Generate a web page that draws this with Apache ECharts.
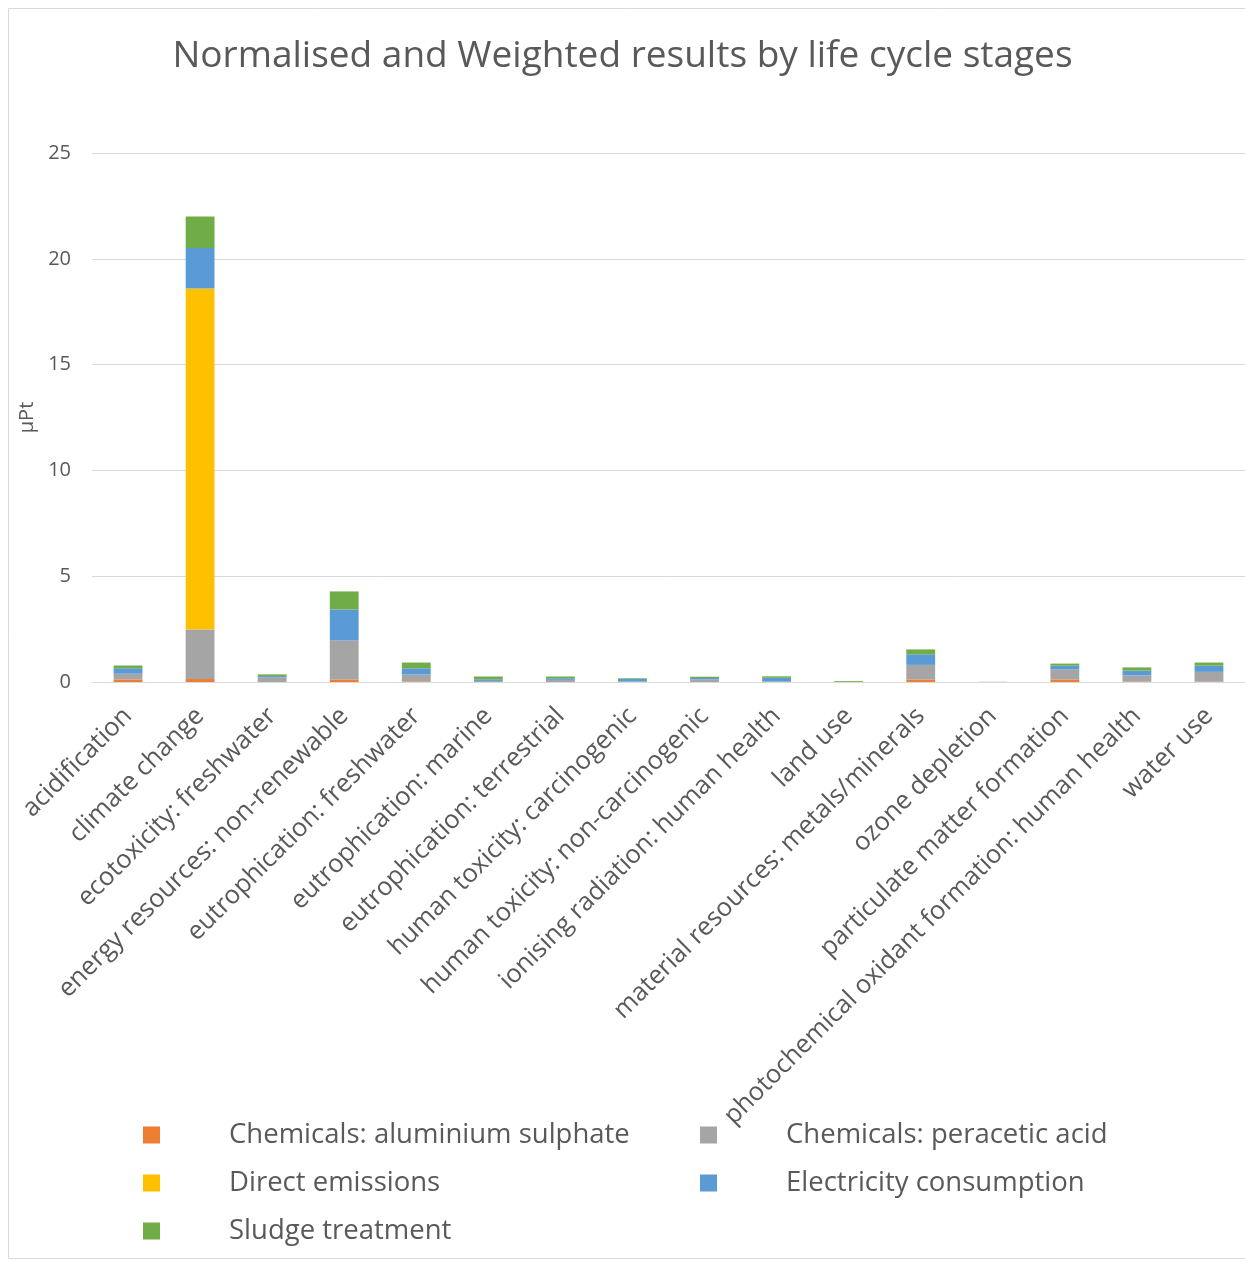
<!DOCTYPE html>
<html>
<head>
<meta charset="utf-8">
<script src="https://cdn.jsdelivr.net/npm/echarts@6/dist/echarts.min.js"></script>
<style>
  body { margin: 0; background: #fff; }
  #chart { width: 1245px; height: 1262px; }
</style>
</head>
<body>
<div id="chart"></div>
<script>
// impact categories
var categories = [
  'acidification', 'climate change', 'ecotoxicity: freshwater',
  'energy resources: non-renewable', 'eutrophication: freshwater',
  'eutrophication: marine', 'eutrophication: terrestrial',
  'human toxicity: carcinogenic', 'human toxicity: non-carcinogenic',
  'ionising radiation: human health', 'land use',
  'material resources: metals/minerals', 'ozone depletion',
  'particulate matter formation', 'photochemical oxidant formation: human health',
  'water use'
];

// values in µPt
var aluminiumSulphate = [0.12, 0.14, 0.00, 0.12, 0.03, 0.00, 0.00, 0.00, 0.00, 0.00, 0.00, 0.12, 0.00, 0.12, 0.02, 0.02];
var peraceticAcid     = [0.27, 2.34, 0.23, 1.84, 0.32, 0.05, 0.10, 0.02, 0.12, 0.02, 0.01, 0.69, 0.01, 0.47, 0.29, 0.46];
var directEmissions   = [0.00, 16.12, 0.00, 0.00, 0.00, 0.00, 0.00, 0.00, 0.00, 0.00, 0.00, 0.00, 0.00, 0.00, 0.00, 0.00];
var electricity       = [0.26, 1.91, 0.05, 1.47, 0.30, 0.08, 0.08, 0.13, 0.07, 0.18, 0.00, 0.50, 0.00, 0.18, 0.23, 0.29];
var sludge            = [0.13, 1.49, 0.08, 0.85, 0.27, 0.13, 0.08, 0.03, 0.06, 0.07, 0.04, 0.23, 0.00, 0.10, 0.15, 0.15];

var yTicks = [0, 5, 10, 15, 20, 25];

var seriesNames = [
  'Chemicals: aluminium sulphate', 'Chemicals: peracetic acid',
  'Direct emissions', 'Electricity consumption', 'Sludge treatment'
];
var seriesData = [aluminiumSulphate, peraceticAcid, directEmissions, electricity, sludge];
var colors = ['#ED7D31', '#A5A5A5', '#FFC000', '#5B9BD5', '#70AD47'];

var font = 'Open Sans';
var txt = '#595959';

var chart = echarts.init(document.getElementById('chart'));

var series = seriesNames.map(function (name, i) {
  return {
    name: name,
    type: 'bar',
    stack: 'total',
    barWidth: '40%',
    itemStyle: { color: colors[i] },
    data: seriesData[i]
  };
});

// legend laid out in two columns like the original
var legendPos = [
  { left: 138, top: 1116 }, { left: 695, top: 1116 },
  { left: 138, top: 1164 }, { left: 695, top: 1164 },
  { left: 138, top: 1212 }
];
var legends = seriesNames.map(function (name, i) {
  return {
    data: [name],
    left: legendPos[i].left,
    top: legendPos[i].top,
    icon: 'rect',
    itemWidth: 17,
    itemHeight: 17,
    textStyle: { fontFamily: font, fontSize: 27.5, color: txt, padding: [0, 0, 0, 64] }
  };
});

chart.setOption({
  animation: false,
  color: colors,
  title: {
    text: 'Normalised and Weighted results by life cycle stages',
    left: 'center',
    top: 33,
    textStyle: { fontFamily: font, fontWeight: 'normal', fontSize: 37, color: txt }
  },
  legend: legends,
  graphic: [{
    type: 'rect',
    shape: { x: 8.5, y: 8.5, width: 1250, height: 1250 },
    style: { fill: 'none', stroke: '#d9d9d9', lineWidth: 1 },
    silent: true
  }],
  grid: { left: 92, right: 0, top: 153, bottom: 580 },
  xAxis: {
    type: 'category',
    data: categories,
    axisLine: { lineStyle: { color: '#d9d9d9', width: 1 } },
    axisTick: { show: false },
    axisLabel: {
      interval: 0,
      rotate: 45,
      margin: 30,
      fontFamily: font,
      fontSize: 25.5,
      color: txt
    }
  },
  yAxis: {
    type: 'value',
    min: yTicks[0],
    max: yTicks[yTicks.length - 1],
    interval: 5,
    name: 'µPt',
    nameLocation: 'middle',
    nameGap: 54,
    nameTextStyle: { fontFamily: font, fontSize: 20, color: txt },
    axisLine: { show: false },
    axisTick: { show: false },
    axisLabel: { fontFamily: font, fontSize: 20, color: txt, margin: 21 },
    splitLine: { lineStyle: { color: '#d9d9d9', width: 1 } }
  },
  series: series
});
</script>
</body>
</html>
